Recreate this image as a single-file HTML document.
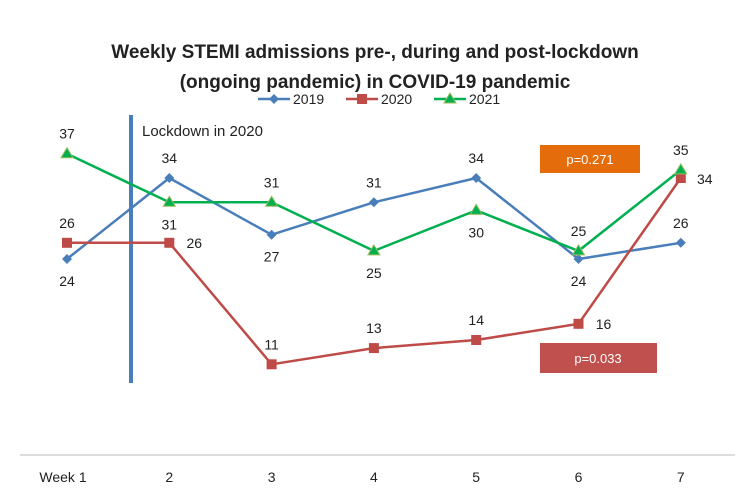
<!DOCTYPE html>
<html><head><meta charset="utf-8"><style>
body{margin:0;background:#fff;}
svg text{font-family:"Liberation Sans",sans-serif;fill:#222;}
</style></head><body>
<svg id="chart" width="750" height="498">
<text x="375" y="58" text-anchor="middle" font-size="19" font-weight="bold">Weekly STEMI admissions pre-, during and post-lockdown</text>
<text x="375" y="88" text-anchor="middle" font-size="19" font-weight="bold">(ongoing pandemic) in COVID-19 pandemic</text>
<g id="legend"></g>
<line x1="20" y1="455" x2="735" y2="455" stroke="#bbb" stroke-width="1"/>
<line x1="131" y1="115" x2="131" y2="383" stroke="#4a7ebb" stroke-width="4"/>
<text x="142" y="136" font-size="15">Lockdown in 2020</text>
<rect x="540" y="145" width="100" height="28" fill="#e46c0a"/>
<text x="590" y="164" text-anchor="middle" font-size="13" style="fill:#fff">p=0.271</text>
<rect x="540" y="343" width="117" height="30" fill="#c0504d"/>
<text x="598" y="363" text-anchor="middle" font-size="13" style="fill:#fff">p=0.033</text>
<g id="plot"></g>
</svg>
<script>
const categories=["Week 1","2","3","4","5","6","7"];
const s2019=[24,34,27,31,34,24,26];
const s2020=[26,26,11,13,14,16,34];
const s2021=[37,31,31,25,30,25,35];
const ns="http://www.w3.org/2000/svg";
const svg=document.getElementById('chart');
const plot=document.getElementById('plot');
const xS=i=>67+i*102.3;
const yS=v=>453.4-v*8.1;
function mk(t,a,p){const e=document.createElementNS(ns,t);for(const k in a)e.setAttribute(k,a[k]);(p||plot).appendChild(e);return e;}
categories.forEach((c,i)=>{
 const t=mk('text',{x:i==0?xS(i)-4:xS(i),y:482,'text-anchor':'middle','font-size':14});
 
 
 t.textContent=c;
});
const series=[
 {d:s2019,c:"#4a7ebb",m:"diamond",lbl:[1,-1,1,-1,-1,1,-1]},
 {d:s2020,c:"#be4b48",m:"square",lbl:[-1,0,-1,-1,-1,0,0]},
 {d:s2021,c:"#00b050",m:"tri",lbl:[-1,1,-1,1,1,-1,-1]}
];
function marker(s,x,y,g){
 let e;
 if(s.m=="diamond")e=mk('path',{d:`M${x},${y-5}L${x+5},${y}L${x},${y+5}L${x-5},${y}Z`,fill:s.c},g);
 else if(s.m=="square")e=mk('rect',{x:x-5,y:y-5,width:10,height:10,fill:s.c},g);
 else e=mk('path',{d:`M${x},${y-6}L${x+6},${y+4}L${x-6},${y+4}Z`,fill:s.c,stroke:"#9bbb59","stroke-width":1},g);
 
 
}
series.forEach((s,si)=>{
 const p=mk('polyline',{points:s.d.map((v,i)=>xS(i)+','+yS(v)).join(' '),fill:'none',stroke:s.c,'stroke-width':2.5});
 
 
 s.d.forEach((v,i)=>{
  marker(s,xS(i),yS(v),plot);
  const pos=s.lbl[i];
  let x=xS(i),y=yS(v);
  if(pos==0){x+=25;y+=5;}else if(pos<0){y-=15;}else{y+=27;}
  if(si==1&&i==6){x=xS(i)+24;y=yS(v)+6;}
  const t=mk('text',{x:x,y:y,'text-anchor':'middle','font-size':14});
  
  
  t.textContent=v;
 });
});
const lg=document.getElementById('legend');
["2019","2020","2021"].forEach((n,i)=>{
 const x0=258+i*88;
 const l=mk('line',{x1:x0,y1:99,x2:x0+32,y2:99,stroke:series[i].c,'stroke-width':2.5},lg);
 
 
 marker(series[i],x0+16,99,lg);
 const t=mk('text',{x:x0+35,y:104,'font-size':14},lg);
 
 
 t.textContent=n;
});
</script>
</body></html>
